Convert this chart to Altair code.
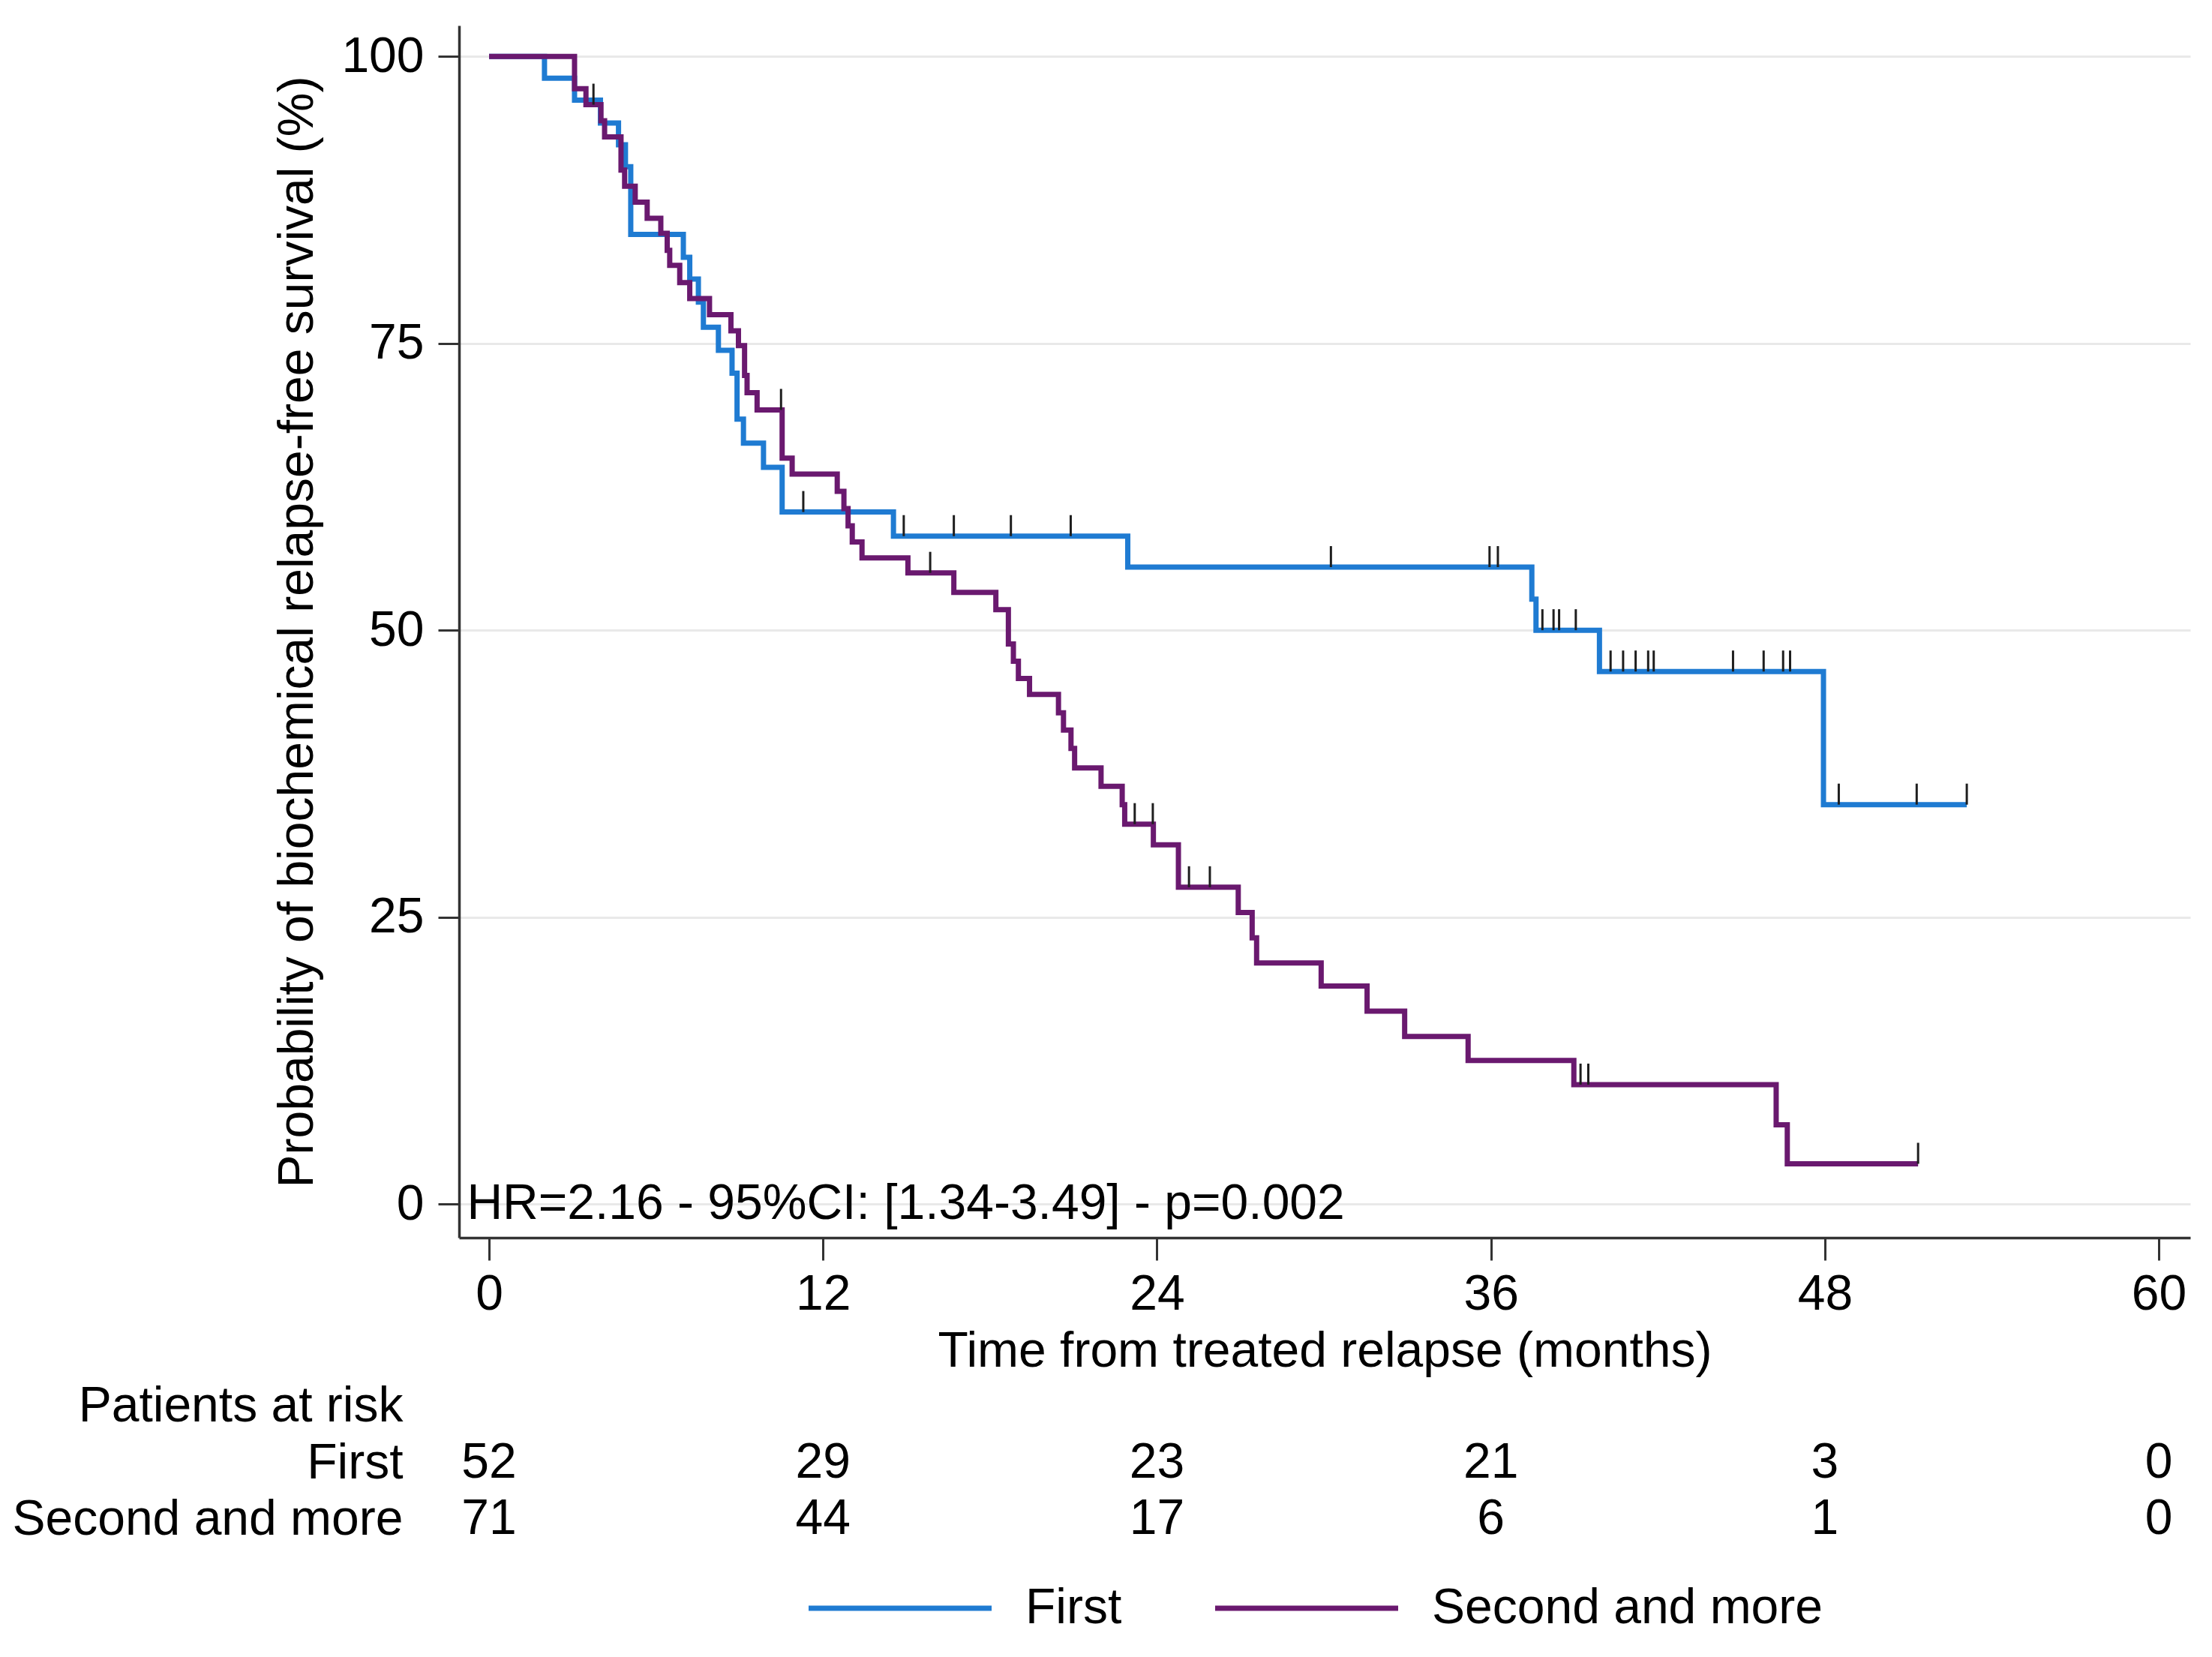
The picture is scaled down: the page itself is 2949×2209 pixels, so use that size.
import altair as alt
import pandas as pd

# ---------------- data ----------------
GROUPS = ["First", "Second and more"]

FIRST_T = [0, 1.99, 3.07, 4.0, 4.65, 4.9, 5.09, 6.98, 7.21, 7.52, 7.7, 8.24, 8.73, 8.91,
           9.14, 9.86, 10.53, 14.53, 22.95, 37.47, 37.62, 39.9, 47.95, 53.1]
FIRST_S = [100, 98.1, 96.2, 94.2, 92.3, 90.4, 84.5, 82.5, 80.6, 78.6, 76.4, 74.4, 72.4, 68.4,
           66.3, 64.2, 60.3, 58.2, 55.5, 52.7, 50.0, 46.4, 34.8, 34.8]

SECOND_T = [0, 3.07, 3.48, 4.02, 4.15, 4.74, 4.87, 5.25, 5.68, 6.17, 6.4, 6.49, 6.85, 7.21,
            7.92, 8.69, 8.96, 9.18, 9.27, 9.63, 10.53, 10.89, 12.51, 12.75, 12.9, 13.05, 13.4,
            15.05, 16.7, 18.21, 18.66, 18.84, 19.02, 19.42, 20.46, 20.64, 20.91, 21.04, 21.99,
            22.75, 22.84, 23.87, 24.77, 26.92, 27.42, 27.58, 29.9, 31.55, 32.9, 35.18, 38.98,
            46.25, 46.65, 51.35]
SECOND_S = [100, 97.2, 95.8, 94.4, 93.0, 90.1, 88.7, 87.3, 85.9, 84.6, 83.1, 81.8, 80.3, 78.9,
            77.5, 76.1, 74.8, 72.2, 70.7, 69.2, 65.0, 63.6, 62.1, 60.6, 59.1, 57.7, 56.3,
            55.0, 53.3, 51.8, 48.8, 47.3, 45.8, 44.4, 42.8, 41.3, 39.7, 38.0, 36.4,
            34.8, 33.1, 31.3, 27.6, 25.4, 23.2, 21.0, 19.0, 16.8, 14.6, 12.5, 10.4,
            6.9, 3.5, 3.5]

FIRST_CENS_T = [11.29, 14.9, 16.7, 18.75, 20.9, 30.25, 35.95, 36.25, 37.85, 38.25, 38.45, 39.05,
                40.3, 40.75, 41.2, 41.65, 41.85, 44.7, 45.8, 46.5, 46.75, 48.5, 51.3, 53.1]
FIRST_CENS_S = [60.3, 58.2, 58.2, 58.2, 58.2, 55.5, 55.5, 55.5, 50.0, 50.0, 50.0, 50.0,
                46.4, 46.4, 46.4, 46.4, 46.4, 46.4, 46.4, 46.4, 46.4, 34.8, 34.8, 34.8]
SECOND_CENS_T = [3.75, 10.49, 15.85, 23.2, 23.85, 25.15, 25.9, 39.22, 39.5, 51.35]
SECOND_CENS_S = [95.8, 69.2, 55.0, 33.1, 33.1, 27.6, 27.6, 10.4, 10.4, 3.5]

X_TICKS = [0, 12, 24, 36, 48, 60]
Y_TICKS = [0, 25, 50, 75, 100]

RISK_HEADER = "Patients at risk"
RISK_TIMES = [0, 12, 24, 36, 48, 60]
RISK_FIRST = [52, 29, 23, 21, 3, 0]
RISK_SECOND = [71, 44, 17, 6, 1, 0]

ANNOTATION = "HR=2.16 - 95%CI: [1.34-3.49] - p=0.002"
X_TITLE = "Time from treated relapse (months)"
Y_TITLE = "Probability of biochemical relapse-free survival (%)"

# ---------------- styling ----------------
BLUE = "#1f7bd2"
PURPLE = "#6a196f"
FONT = "Liberation Sans"
FS = 66
AXIS_COLOR = "#333333"
W, H = 2308, 1616

curves = pd.DataFrame({
    "t": FIRST_T + SECOND_T,
    "s": FIRST_S + SECOND_S,
    "g": [GROUPS[0]] * len(FIRST_T) + [GROUPS[1]] * len(SECOND_T),
})
cens = pd.DataFrame({
    "t": FIRST_CENS_T + SECOND_CENS_T,
    "s": FIRST_CENS_S + SECOND_CENS_S,
})
risk = pd.DataFrame({
    "t": RISK_TIMES + RISK_TIMES,
    "row": [GROUPS[0]] * len(RISK_TIMES) + [GROUPS[1]] * len(RISK_TIMES),
    "n": RISK_FIRST + RISK_SECOND,
})
annot = pd.DataFrame({"label": [ANNOTATION]})

xscale = alt.Scale(domain=[-1.08, 61.13], nice=False, zero=False)
yscale = alt.Scale(domain=[-2.94, 102.7], nice=False, zero=False)

x_axis = alt.Axis(values=X_TICKS, title=X_TITLE, grid=False, tickSize=30, labelPadding=13,
                  labelFontSize=FS, titleFontSize=FS, titleY=119, titleBaseline="top",
                  titleFontWeight="normal",
                  domainColor=AXIS_COLOR, domainWidth=3.5, tickColor=AXIS_COLOR, tickWidth=3)
y_axis = alt.Axis(values=Y_TICKS, title=Y_TITLE, grid=True, gridColor="#e9e9e9", gridWidth=3,
                  tickSize=28, labelPadding=19, labelFontSize=FS, titleFontSize=FS,
                  titleFontWeight="normal",
                  labelAngle=0, titleAngle=270, titleBaseline="alphabetic", titleX=-196,
                  domainColor=AXIS_COLOR, domainWidth=3.5, tickColor=AXIS_COLOR, tickWidth=3)

color = alt.Color(
    "g:N",
    scale=alt.Scale(domain=GROUPS, range=[BLUE, PURPLE]),
    legend=alt.Legend(
        title=None, orient="none", legendX=554, legendY=2076, direction="horizontal",
        symbolType="M-4,0H4", symbolSize=3721, symbolStrokeWidth=7,
        labelFontSize=FS, labelFont=FONT, labelColor="black", labelLimit=0,
        labelOffset=133, columnPadding=110, padding=0,
    ),
)

lines = alt.Chart(curves).mark_line(
    interpolate="step-after", strokeWidth=7, strokeJoin="miter"
).encode(
    x=alt.X("t:Q", scale=xscale, axis=x_axis),
    y=alt.Y("s:Q", scale=yscale, axis=y_axis),
    color=color,
)

ticks = alt.Chart(cens).mark_tick(
    orient="vertical", size=28, thickness=3, yOffset=-14, color="#1e1e1e", opacity=1
).encode(
    x=alt.X("t:Q", scale=xscale),
    y=alt.Y("s:Q", scale=yscale),
)

hr_text = alt.Chart(annot).mark_text(
    align="left", baseline="middle", fontSize=FS, font=FONT, color="black"
).encode(
    x=alt.datum(-0.8, scale=xscale),
    y=alt.datum(0, scale=yscale),
    text="label:N",
)

main = alt.layer(lines, ticks, hr_text).properties(width=W, height=H)

table = alt.Chart(risk).mark_text(
    fontSize=FS, font=FONT, color="black", align="center", baseline="middle"
).encode(
    x=alt.X("t:Q", scale=xscale, axis=None),
    y=alt.Y("row:N", scale=alt.Scale(domain=[RISK_HEADER] + GROUPS),
            axis=alt.Axis(title=None, ticks=False, tickSize=0, domain=False, grid=False,
                          labelPadding=75, labelFontSize=FS, labelFont=FONT,
                          labelColor="black", labelLimit=0, labelAlign="right")),
    text="n:Q",
).properties(width=W, height=226)

chart = alt.vconcat(main, table, spacing=187, bounds="flush").properties(
    padding={"left": 7, "top": 26, "right": 5, "bottom": 5}
).configure(
    font=FONT, background="white"
).configure_view(
    strokeWidth=0
).configure_axis(
    labelFont=FONT, titleFont=FONT, labelColor="black", titleColor="black",
    titleFontWeight="normal"
)

chart.save("out.html", embed_options={"renderer": "svg", "actions": False})
